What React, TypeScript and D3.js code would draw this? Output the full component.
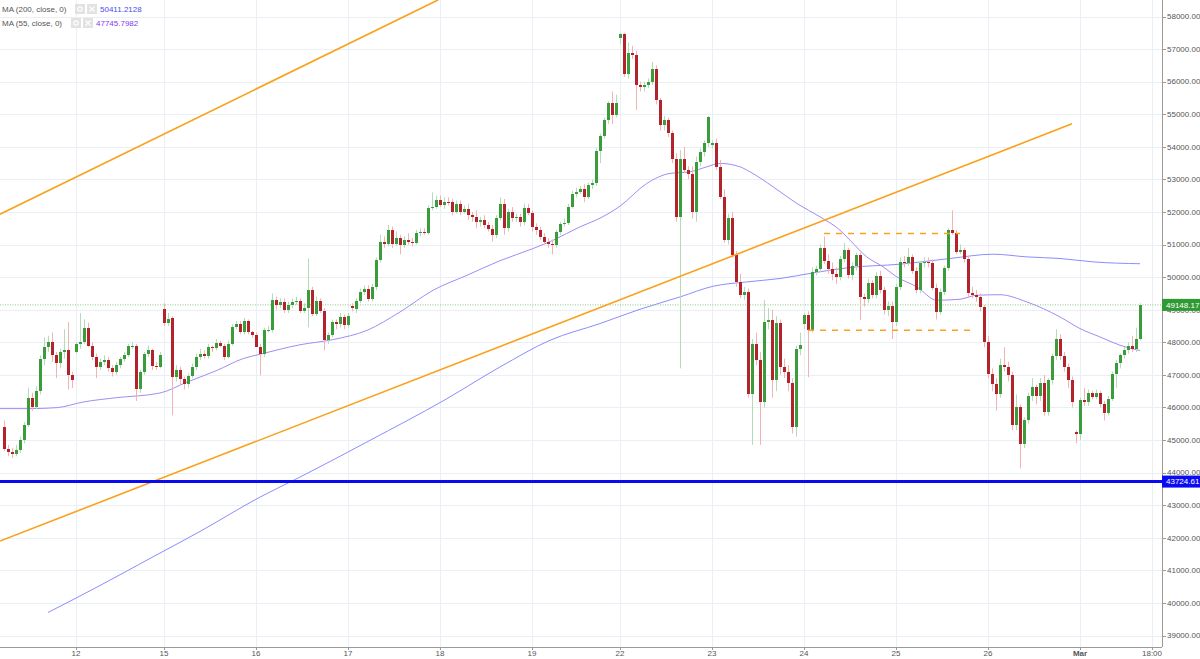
import React from "react";
import * as d3 from "d3";

// ---------- DATA (hourly candles, index 0 = first visible candle) ----------
const opens = [
  45400,44730,44620,44580,44700,45000,45450,46300,46000,46500,47500,47850,48000,47600,47350,47700,47750,47000,
  47700,47940,48000,48450,47900,47550,47240,47400,47450,47200,47100,47300,47480,47620,47880,47900,46560,47080,47650,47750,47280,47250,
  49020,48590,48760,46920,47140,46860,46710,46960,47240,47550,47650,47580,47860,47810,47980,47900,47550,47960,48470,48550,48320,48660,48320,
  48210,47860,47630,48370,48390,49290,49140,49250,48990,49150,49250,49270,48960,49050,49600,48880,49270,48960,48060,48210,48620,48550,48780,
  48520,49100,49020,49270,49550,49650,49340,49700,50520,51080,51030,51460,51030,51190,50980,51140,51080,51050,51340,51390,51360,52110,52160,
  52360,52210,52310,52300,52000,52250,52000,52100,51900,51850,51700,51750,51590,51490,51290,51810,52240,51500,52000,51800,51850,51700,52120,
  51960,51530,51440,51230,51080,51010,51000,51380,51620,51650,52150,52560,52620,52700,52460,52820,52880,53880,54330,54820,55340,54970,
  57330,57460,56250,56870,56820,55900,55850,55900,56000,56400,55430,54670,54820,54430,53640,51850,53640,53290,53180,52000,53540,53850,54120,
  54060,54110,53380,52470,51130,51800,50670,49850,49440,49550,46420,47960,47450,46170,48620,48680,46840,48580,47250,47100,46760,45400,47780,
  48575,48830,48370,50160,50250,50880,50510,50260,50100,49990,50570,50820,50060,50330,50670,49390,49330,49810,49450,50050,49600,48990,49110,
  48620,49700,50470,50440,50630,50190,49600,50420,50470,50430,49680,48930,49550,50270,51440,51360,50780,50830,50570,49500,49450,49390,49080,
  48000,47040,46730,46420,47290,47250,46990,45450,46010,44890,45620,46360,46620,46360,46750,45860,46830,47570,48110,47570,47240,46850,45240,
  45170,46220,46170,46440,46320,46440,46120,45830,46270,47040,47350,47600,47750,47900,47800,48110,
];
const closes = [
  44730,44620,44580,44700,45000,45450,46300,46000,46500,47500,47850,48000,47600,47350,47700,47750,47000,46850,
  47940,48000,48450,47900,47550,47240,47400,47450,47200,47100,47300,47480,47620,47880,47900,46560,47080,47650,47750,47280,47250,47620,
  48590,48730,46920,47140,46860,46710,46960,47240,47550,47650,47580,47860,47810,47980,47900,47550,47960,48470,48550,48320,48660,48320,48210,
  47860,47630,48370,48390,49290,49140,49250,48990,49150,49250,49270,48960,49050,49600,48880,49270,48960,48060,48210,48620,48550,48780,48520,
  48800,49050,49270,49550,49650,49340,49700,50520,51080,51030,51460,51030,51190,50980,51140,51080,51050,51340,51390,51360,52110,52160,52360,
  52210,52310,52300,52000,52250,52000,52100,51900,51850,51700,51750,51590,51490,51290,51810,52240,51500,52000,51800,51850,51700,52120,51960,
  51530,51440,51230,51080,51010,51000,51380,51620,51650,52150,52560,52620,52700,52460,52820,52880,53880,54330,54820,55340,54970,55340,
  57460,56250,56870,56820,55900,55850,55900,56000,56400,55430,54670,54820,54430,53640,51850,53640,53290,53180,52000,53540,53850,54120,54920,
  54110,53380,52470,51130,51800,50670,49850,49440,49550,46420,47960,47450,46170,48620,48680,46840,48580,47250,47100,46760,45400,47780,47910,
  48830,48370,50160,50250,50880,50510,50260,50100,49990,50570,50820,50060,50330,50670,49390,49330,49810,49450,50050,49600,48990,49110,48620,
  49700,50470,50440,50630,50190,49600,50420,50470,50430,49680,48930,49550,50270,51440,51360,50780,50830,50570,49500,49450,49390,49080,48000,
  47040,46730,46420,47290,47250,46990,45450,46010,44890,45620,46360,46620,46360,46750,45860,46830,47570,48110,47570,47240,46850,46170,45170,
  46220,46170,46440,46320,46440,46120,45830,46270,47040,47350,47600,47750,47900,47800,48110,49148.17,
];
const highs = [
  45600,44850,44750,44850,45100,45550,46600,46450,46650,47600,48150,48200,48300,47700,47800,48400,48620,47100,
  48000,48900,48700,48600,48000,47650,47500,47600,47550,47300,47400,47550,47700,47950,48000,47950,47150,47700,47900,47800,47400,47700,
  49200,48900,48800,47300,47250,46950,47050,47350,47650,47800,47750,47950,47900,48100,48050,47950,48050,48550,48650,48650,48750,48700,48350,
  48300,47950,48450,48500,49500,49400,49350,49350,49250,49350,49400,49350,49200,50570,49700,49400,49350,49050,48300,48700,48700,48900,48850,
  48900,49200,49350,49650,49750,49750,49800,50600,51300,51250,51600,51550,51400,51300,51250,51350,51200,51450,51500,51500,52200,52600,52500,
  52500,52450,52450,52400,52350,52350,52200,52250,52000,52050,51850,51900,51700,51600,51900,52450,52400,52100,52150,51950,51950,52250,52250,
  52050,51650,51550,51350,51200,51150,51450,51700,51800,52250,52650,52750,52800,52850,52900,53000,53950,54400,54900,55400,55700,55600,
  57500,57500,57200,57100,56950,56000,56000,56100,56610,56500,55500,54950,54900,54500,53800,53900,54000,53400,53400,53700,53950,54200,54950,
  54200,54250,53600,52700,51950,52000,50800,50100,49700,49650,48100,48300,47700,49300,49050,49000,48800,48700,47500,47300,46900,47900,48300,
  48900,48950,50300,50350,51000,51250,50700,50450,50300,50650,51050,50900,50450,50750,50750,49500,49950,49900,50150,50200,49700,49250,49250,
  49800,50600,50650,50900,50700,50300,50500,50600,50600,50550,49800,49650,50350,51500,52050,51450,51000,50900,50650,49700,49600,49500,49150,
  48200,47200,46900,47500,47850,47400,47100,46400,46100,45700,46450,46900,46700,46900,47000,46900,47650,48400,48250,47700,47350,46950,45300,
  46300,46600,46550,46500,46550,46500,46200,46350,47100,47450,47650,47850,48000,48200,48450,49200,
];
const lows = [
  44650,44500,44450,44500,44600,44900,45400,45900,45950,46400,47300,47700,47400,46900,47200,47500,46550,46600,
  47650,47800,47950,47850,47450,46900,47150,47300,47100,46950,47000,47200,47400,47550,47800,46200,46450,47000,47550,47150,47150,47200,
  48500,48500,45760,46800,46700,46550,46600,46900,47150,47450,47500,47500,47700,47750,47850,47450,47500,47900,48400,48250,48250,48250,48150,
  48100,46990,47550,48300,48300,49000,49050,48900,48900,49050,49150,48900,48900,48460,48800,48800,48900,47750,47950,48150,48400,48450,48400,
  48450,48950,48900,49200,49450,49250,49250,49600,50450,50900,50950,50900,50950,50700,50900,51000,50950,51000,51250,51300,51300,52050,52100,
  52150,52100,52200,51900,51950,51900,51950,51750,51700,51500,51550,51500,51400,51100,51200,51750,51300,51400,51700,51700,51550,51600,51900,
  51400,51300,51150,51000,50900,50700,50900,51300,51550,51600,52100,52450,52550,52300,52400,52700,52800,53500,54250,54700,54700,54900,
  57150,56150,56100,56700,55130,55700,55700,55800,55900,55300,54500,54500,54300,53500,51700,47200,53200,53000,51800,51700,53400,53700,54000,
  53950,53300,52400,51050,51000,50600,49700,49350,49300,46300,44850,47300,44850,46000,48400,46300,46500,47000,46900,46500,45200,45100,47600,
  48400,46930,48300,50050,50150,50400,50100,49900,49800,49900,50450,49950,49900,50200,48680,49100,49200,49350,49350,49500,48850,48800,48100,
  48500,49600,50300,50350,50100,49500,49500,50300,50300,49600,48700,48850,49450,50200,51300,50700,50700,50450,49350,49350,49250,48950,47850,
  46900,46500,45900,46300,47100,46800,45300,45300,44130,44750,45500,46200,46100,46200,45750,45750,46700,47450,47450,47100,46600,46000,44900,
  45000,46050,46050,46250,46250,46000,45600,45750,46200,46600,47200,47500,47650,47700,47700,48050,
];

// Moving averages as (candle index, value)
const ma55Idx = [-1, 6.5, 13.3, 19.8, 28.3, 39, 45.8, 53.3, 59.8, 64, 74, 82.3, 90.8, 99, 107.3, 115.8, 124, 132.3, 137.3, 144, 149, 154, 160.7, 166.5, 171.5, 175.7, 179, 184, 186.5, 192.3, 198.2, 204, 209, 211.5, 215.7, 219.8, 223.2, 228.2, 233.2, 239, 243.2, 249, 255.7, 264, 269, 274, 279, 284];
const ma55Val = [45964, 45964, 45995, 46167, 46302, 46443, 46781, 47140, 47500, 47632, 47924, 48084, 48369, 48931, 49598, 50059, 50504, 50879, 51134, 51543, 51810, 52179, 52876, 53183, 53232, 53386, 53490, 53386, 53232, 52771, 52262, 51850, 51441, 51134, 50621, 50314, 50007, 49700, 49291, 49322, 49445, 49460, 49239, 48778, 48421, 48164, 47909, 47745.8];
const ma200Idx = [11, 24, 36.5, 49, 64, 74, 91.5, 110, 124, 136.5, 149, 159, 169, 177.3, 185.7, 194, 202.3, 211.5, 224, 236.5, 247.3, 255.7, 264, 272.3, 284];
const ma200Val = [39706, 40535, 41365, 42194, 43248, 43863, 44990, 46219, 47242, 48062, 48575, 49014, 49392, 49721, 49853, 49958, 50130, 50296, 50397, 50572, 50704, 50621, 50572, 50468, 50411.2];

// Day labels on the time axis: candle index where each label sits
const dayTickIdx = [18, 40, 63, 86, 109, 132, 154, 177, 200, 223, 246, 269, 287];
const dayTickLabels = ["12", "15", "16", "17", "18", "19", "22", "23", "24", "25", "26", "Mar", "18:00"];

// Drawn annotations: trend lines [idx0, price0, idx1, price1]
const trendUpper = [-1, 51930, 108.5, 58507];
const trendLower = [-1, 41897, 267, 54707];
// Dashed range box: [fromIdx, toIdx, price]
const boxTop = [205, 239, 51340];
const boxBottom = [201, 243, 48370];
// Horizontal levels
const supportLevel = 43724.61;
const lastPrice = 49148.17;
const ma200Last = "50411.2128";
const ma55Last = "47745.7982";

const FONT = "'Liberation Sans', Arial, Helvetica, sans-serif";

export default function App() {
  const W = 1200, H = 659;
  const right = 1162, bottom = 647;
  const x = d3.scaleLinear().domain([-1, 289.5]).range([0, right]);
  const y = d3.scaleLinear().domain([39000, 58000]).range([635.5, 16.5]);
  const yTicks = d3.range(39000, 58001, 1000);

  const green = "#3a9c3a", red = "#b3232b";
  const greenWick = "#b4dcbc", redWick = "#f3b3b6";

  const maLine = (idx: number[], val: number[]) =>
    d3.line<number>().x((_, k) => x(idx[k])).y((v) => y(v)).curve(d3.curveMonotoneX)(val) || "";

  return (
    <svg width={W} height={H} style={{ position: "fixed", left: 0, top: 0, background: "#fff" }} fontFamily={FONT}>
      <defs>
        <clipPath id="plot"><rect x={0} y={0} width={right} height={bottom} /></clipPath>
      </defs>
      <rect x={0} y={0} width={W} height={H} fill="#fff" />
      {/* grid */}
      <g shapeRendering="crispEdges">
        {yTicks.map((t) => (
          <line key={"gy" + t} x1={0} x2={right} y1={Math.round(y(t)) + 0.5} y2={Math.round(y(t)) + 0.5} stroke="#e9eff5" />
        ))}
        {dayTickIdx.map((d) => (
          <line key={"gx" + d} x1={Math.round(x(d)) + 0.5} x2={Math.round(x(d)) + 0.5} y1={0} y2={bottom} stroke="#e9eff5" />
        ))}
      </g>
      <g clipPath="url(#plot)">
        {/* moving averages */}
        <path d={maLine(ma200Idx, ma200Val)} fill="none" stroke="#8c8cff" strokeWidth={1} />
        <path d={maLine(ma55Idx, ma55Val)} fill="none" stroke="#a58af5" strokeWidth={1} />
        {/* last price dotted line */}
        <line x1={0} x2={right} y1={y(lastPrice)} y2={y(lastPrice)} stroke="#86c986" strokeWidth={1} strokeDasharray="1,1.5" />
        {/* wicks */}
        {closes.map((c, i) => (
          <line key={"w" + i} x1={Math.round(x(i)) + 0.5} x2={Math.round(x(i)) + 0.5} y1={y(highs[i])} y2={y(lows[i])}
            stroke={c >= opens[i] ? greenWick : redWick} strokeWidth={1} />
        ))}
        {/* bodies */}
        <g shapeRendering="crispEdges">
          {closes.map((c, i) => {
            const o = opens[i];
            const top = y(Math.max(o, c));
            const h = Math.max(1, y(Math.min(o, c)) - top);
            return <rect key={"b" + i} x={Math.round(x(i)) - 1} y={top} width={3} height={h} fill={c >= o ? green : red} />;
          })}
        </g>
        {/* trend lines */}
        <line x1={x(trendUpper[0])} y1={y(trendUpper[1])} x2={x(trendUpper[2])} y2={y(trendUpper[3])} stroke="#f9a21c" strokeWidth={1.6} />
        <line x1={x(trendLower[0])} y1={y(trendLower[1])} x2={x(trendLower[2])} y2={y(trendLower[3])} stroke="#f9a21c" strokeWidth={1.6} />
        {/* dashed box */}
        <line x1={x(boxTop[0])} x2={x(boxTop[1])} y1={y(boxTop[2])} y2={y(boxTop[2])} stroke="#f9a21c" strokeWidth={1.5} strokeDasharray="6,6" />
        <line x1={x(boxBottom[0])} x2={x(boxBottom[1])} y1={y(boxBottom[2])} y2={y(boxBottom[2])} stroke="#f9a21c" strokeWidth={1.5} strokeDasharray="6,6" />
        {/* support level */}
        <line x1={0} x2={right} y1={y(supportLevel)} y2={y(supportLevel)} stroke="#0b0bf2" strokeWidth={3} />
      </g>
      {/* axes */}
      <g shapeRendering="crispEdges">
        <line x1={right + 0.5} x2={right + 0.5} y1={0} y2={bottom} stroke="#9a9a9a" />
        <line x1={0} x2={right} y1={bottom + 0.5} y2={bottom + 0.5} stroke="#9a9a9a" />
        {yTicks.map((t) => (
          <line key={"ty" + t} x1={right} x2={right + 4} y1={Math.round(y(t)) + 0.5} y2={Math.round(y(t)) + 0.5} stroke="#9a9a9a" />
        ))}
        {dayTickIdx.map((d) => (
          <line key={"tx" + d} x1={Math.round(x(d)) + 0.5} x2={Math.round(x(d)) + 0.5} y1={bottom} y2={bottom + 3} stroke="#9a9a9a" />
        ))}
      </g>
      {yTicks.map((t) => (
        <text key={"ly" + t} x={right + 5} y={y(t)} dy="0.35em" fontSize={8} fill="#555">{d3.format(".2f")(t)}</text>
      ))}
      {dayTickIdx.map((d, k) => (
        <text key={"lx" + d} x={x(d)} y={653.5} dy="0.35em" fontSize={8} textAnchor="middle" fill="#555"
          fontWeight={dayTickLabels[k] === "Mar" ? "bold" : "normal"}>{dayTickLabels[k]}</text>
      ))}
      {/* price labels */}
      <rect x={right} y={y(lastPrice) - 6} width={W - right} height={12} fill="#2f9a32" />
      <text x={right + 4} y={y(lastPrice)} dy="0.35em" fontSize={8} fill="#fff">{lastPrice.toFixed(2)}</text>
      <rect x={right} y={y(supportLevel) - 6} width={W - right} height={12} fill="#0b0bf2" />
      <text x={right + 4} y={y(supportLevel)} dy="0.35em" fontSize={8} fill="#fff">{supportLevel.toFixed(2)}</text>
      {/* legend */}
      <g fontSize={8}>
        <text x={2} y={9} dy="0.35em" fill="#555">MA (200, close, 0)</text>
        <rect x={75} y={4} width={10} height={10} fill="#e2e2e2" />
        <circle cx={80} cy={9} r={2.2} fill="none" stroke="#fff" strokeWidth={1.2} />
        <rect x={87} y={4} width={10} height={10} fill="#e2e2e2" />
        <path d="M89.5,6.5 L94.5,11.5 M94.5,6.5 L89.5,11.5" stroke="#fff" strokeWidth={1.2} />
        <text x={100} y={9} dy="0.35em" fill="#4a4af0">{ma200Last}</text>
        <text x={2} y={23} dy="0.35em" fill="#555">MA (55, close, 0)</text>
        <rect x={71} y={18} width={10} height={10} fill="#e2e2e2" />
        <circle cx={76} cy={23} r={2.2} fill="none" stroke="#fff" strokeWidth={1.2} />
        <rect x={83} y={18} width={10} height={10} fill="#e2e2e2" />
        <path d="M85.5,20.5 L90.5,25.5 M90.5,20.5 L85.5,25.5" stroke="#fff" strokeWidth={1.2} />
        <text x={96} y={23} dy="0.35em" fill="#7f3cf0">{ma55Last}</text>
      </g>
    </svg>
  );
}
